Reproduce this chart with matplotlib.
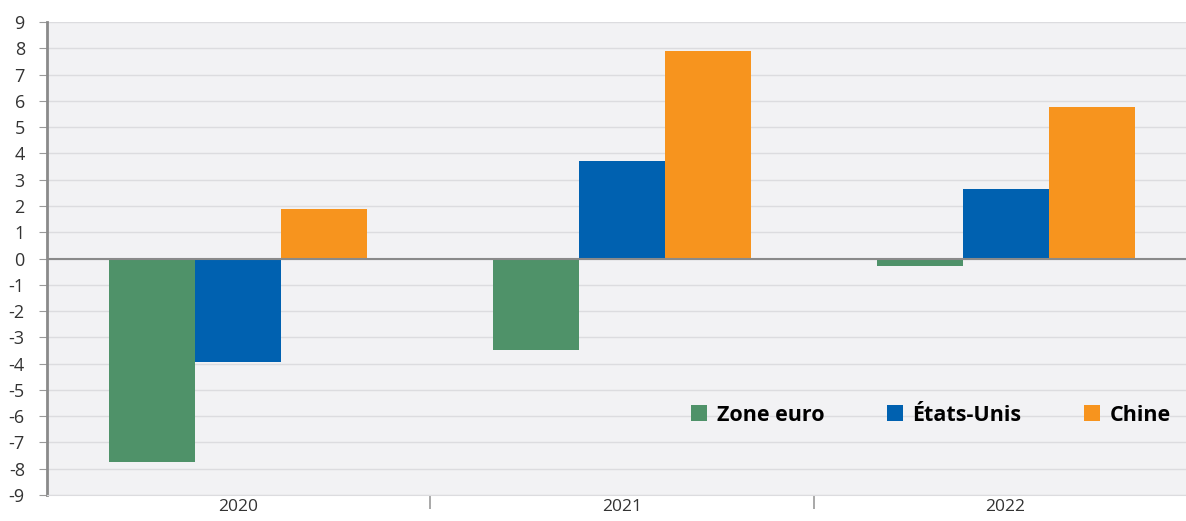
import numpy as np
import matplotlib.pyplot as plt

plt.rcParams['font.family'] = ['Open Sans', 'DejaVu Sans']
plt.rcParams['axes.unicode_minus'] = False

# Data
years = ['2020', '2021', '2022']
zone_euro = [-7.75, -3.5, -0.3]
etats_unis = [-3.95, 3.72, 2.65]
chine = [1.9, 7.9, 5.77]

series = [('Zone euro', zone_euro, '#4f9269'),
          ('États-Unis', etats_unis, '#0061b0'),
          ('Chine', chine, '#f7941e')]

fig = plt.figure(figsize=(11.86, 5.21), dpi=100)
ax = fig.add_axes([47 / 1186, 26 / 521, 1 - 47 / 1186, (495 - 22) / 521])
ax.set_facecolor('#f2f2f4')

x = np.arange(len(years))
width = 0.224
for i, (name, vals, color) in enumerate(series):
    ax.bar(x + (i - 1) * width, vals, width, color=color, label=name, zorder=3)

ax.set_ylim(-9, 9)
ax.set_xlim(-0.497, 2.47)
ax.set_yticks(range(-9, 10))
ax.grid(axis='y', color='#dcdcdf', linewidth=1, zorder=0)
ax.axhline(0, color='#8a8a8a', linewidth=1.5, zorder=4)

for side in ['top', 'right']:
    ax.spines[side].set_visible(False)
ax.spines['left'].set_color('#8a8a8a')
ax.spines['left'].set_linewidth(2)
ax.spines['bottom'].set_color('#dcdcdf')

ax.tick_params(axis='y', length=6, color='#9a9a9a', labelsize=13,
               labelcolor='#333333', pad=10)
ax.set_xticks(x)
ax.set_xticklabels(years)
ax.tick_params(axis='x', length=0, labelsize=12.5, labelcolor='#333333', pad=3)
ax.set_xticks([0.5, 1.5], minor=True)
ax.tick_params(axis='x', which='minor', length=10, color='#9a9a9a', width=1.2)

leg = ax.legend(loc='lower right', bbox_to_anchor=(1.0, 0.115), ncol=3, frameon=False,
                prop={'weight': 'bold', 'size': 15.5}, handlelength=0.75, handleheight=0.75,
                columnspacing=2.9, handletextpad=0.45, borderaxespad=0.3)

fig.savefig('out.png', dpi=100)
